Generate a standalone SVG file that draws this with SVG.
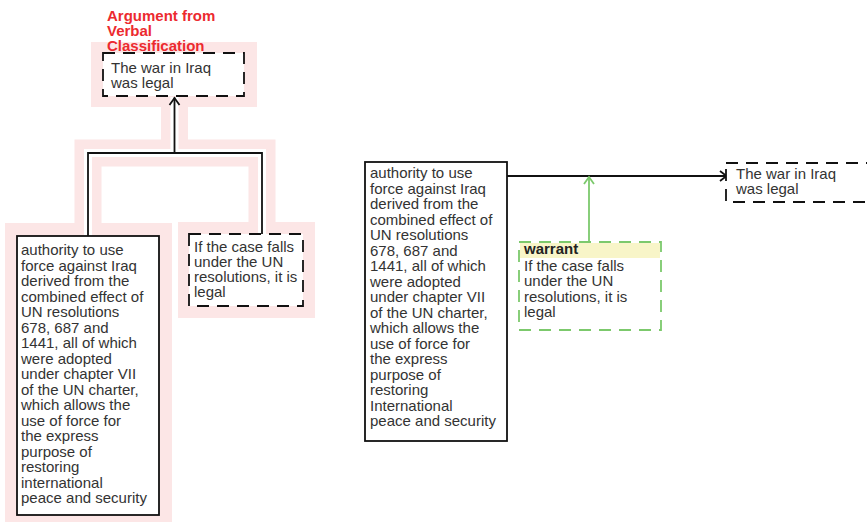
<svg xmlns="http://www.w3.org/2000/svg" width="867" height="522" viewBox="0 0 867 522">
<style>
text{font-family:"Liberation Sans",Arial,sans-serif;font-size:15px;fill:#333}
.title{font-weight:bold;fill:#ec2a2f}
.hd{font-weight:bold;fill:#222}
.solid{fill:#fff;stroke:#111;stroke-width:1.8}
.dash{fill:#fff;stroke:#111;stroke-width:1.8;stroke-dasharray:12 8}
.gdash{fill:#fff;stroke:#7cc96c;stroke-width:1.8;stroke-dasharray:12 8}
.ln{fill:none;stroke:#111;stroke-width:1.8}
.gln{fill:none;stroke:#7cc96c;stroke-width:1.8}
.halo{fill:#fce6e6}
.haloln{fill:none;stroke:#fce6e6;stroke-width:27;stroke-linecap:square;stroke-linejoin:miter}
.gap{fill:none;stroke:#fff;stroke-width:8;stroke-linecap:butt;stroke-linejoin:miter}
</style>
<rect width="867" height="522" fill="#fff"/>
<g id="scheme-halo">
  <rect class="halo" x="91" y="42" width="166" height="65"/>
  <rect class="halo" x="5" y="223" width="167" height="300"/>
  <rect class="halo" x="178" y="222" width="137" height="96"/>
  <path class="haloln" d="M88,236 V153 H262 V234 M174.5,153 V107"/>
  <path class="gap" d="M88,236 V153 H262 V234 M174.5,153 V97"/>
</g>
<g id="connectors">
  <path class="ln" d="M88,236 V153 H262 V234 M174.5,153 V97.5"/>
  <path class="ln" d="M169.5,105 L174.5,98 L179.5,105"/>
  <path class="ln" d="M507,176 H726"/>
  <path class="ln" d="M720,171 L726.5,176 L720,181"/>
  <path class="gln" d="M589,241 V177"/>
  <path class="gln" d="M584,184 L589,177 L594,184"/>
</g>
<g id="scheme-title">
  <text class="title" x="107" y="21">Argument from</text>
  <text class="title" x="107" y="36">Verbal</text>
  <text class="title" x="107" y="51">Classification</text>
</g>
<g id="conclusion-left">
  <rect class="dash" x="103" y="53" width="141" height="43"/>
  <text x="111" y="73">The war in Iraq</text>
  <text x="111" y="88">was legal</text>
</g>
<g id="premise-left">
  <rect class="solid" x="17" y="236" width="142" height="279"/>
  <text x="21" y="255">
    <tspan x="21" dy="0">authority to use</tspan>
    <tspan x="21" dy="15.5">force against Iraq</tspan>
    <tspan x="21" dy="15.5">derived from the</tspan>
    <tspan x="21" dy="15.5">combined effect of</tspan>
    <tspan x="21" dy="15.5">UN resolutions</tspan>
    <tspan x="21" dy="15.5">678, 687 and</tspan>
    <tspan x="21" dy="15.5">1441, all of which</tspan>
    <tspan x="21" dy="15.5">were adopted</tspan>
    <tspan x="21" dy="15.5">under chapter VII</tspan>
    <tspan x="21" dy="15.5">of the UN charter,</tspan>
    <tspan x="21" dy="15.5">which allows the</tspan>
    <tspan x="21" dy="15.5">use of force for</tspan>
    <tspan x="21" dy="15.5">the express</tspan>
    <tspan x="21" dy="15.5">purpose of</tspan>
    <tspan x="21" dy="15.5">restoring</tspan>
    <tspan x="21" dy="15.5">international</tspan>
    <tspan x="21" dy="15.5">peace and security</tspan>
  </text>
</g>
<g id="warrant-left">
  <rect class="dash" x="189" y="234" width="114" height="72"/>
  <text x="194" y="252">
    <tspan x="194" dy="0">If the case falls</tspan>
    <tspan x="194" dy="15">under the UN</tspan>
    <tspan x="194" dy="15">resolutions, it is</tspan>
    <tspan x="194" dy="15">legal</tspan>
  </text>
</g>
<g id="premise-right">
  <rect class="solid" x="365" y="162" width="142" height="279"/>
  <text x="370" y="178">
    <tspan x="370" dy="0">authority to use</tspan>
    <tspan x="370" dy="15.5">force against Iraq</tspan>
    <tspan x="370" dy="15.5">derived from the</tspan>
    <tspan x="370" dy="15.5">combined effect of</tspan>
    <tspan x="370" dy="15.5">UN resolutions</tspan>
    <tspan x="370" dy="15.5">678, 687 and</tspan>
    <tspan x="370" dy="15.5">1441, all of which</tspan>
    <tspan x="370" dy="15.5">were adopted</tspan>
    <tspan x="370" dy="15.5">under chapter VII</tspan>
    <tspan x="370" dy="15.5">of the UN charter,</tspan>
    <tspan x="370" dy="15.5">which allows the</tspan>
    <tspan x="370" dy="15.5">use of force for</tspan>
    <tspan x="370" dy="15.5">the express</tspan>
    <tspan x="370" dy="15.5">purpose of</tspan>
    <tspan x="370" dy="15.5">restoring</tspan>
    <tspan x="370" dy="15.5">International</tspan>
    <tspan x="370" dy="15.5">peace and security</tspan>
  </text>
</g>
<g id="warrant-right">
  <rect class="gdash" x="519" y="242" width="142" height="88"/>
  <rect x="520" y="243" width="140" height="15" fill="#f8f5c8"/>
  <text class="hd" x="524" y="254">warrant</text>
  <text x="524" y="271">
    <tspan x="524" dy="0">If the case falls</tspan>
    <tspan x="524" dy="15.3">under the UN</tspan>
    <tspan x="524" dy="15.3">resolutions, it is</tspan>
    <tspan x="524" dy="15.3">legal</tspan>
  </text>
</g>
<g id="conclusion-right">
  <rect class="dash" x="726" y="163" width="160" height="39"/>
  <text x="736" y="179">The war in Iraq</text>
  <text x="736" y="194">was legal</text>
</g>
</svg>
